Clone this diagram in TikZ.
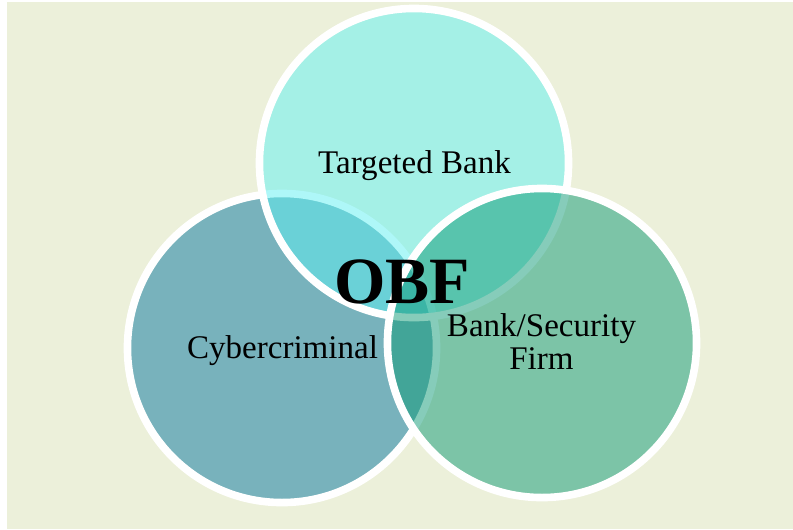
\documentclass[tikz,border=0pt]{standalone}
\usepackage{fontspec}
\setmainfont{Liberation Serif}
\usetikzlibrary{positioning}
\definecolor{bgcol}{RGB}{236,240,218}
\definecolor{leftcol}{RGB}{6,118,160}
\definecolor{topcol}{RGB}{94,240,242}
\definecolor{rightcol}{RGB}{14,154,118}

\begin{document}
\begin{tikzpicture}[
    % GLOBAL CFG
    x=0.025cm, y=-0.025cm,
    % Styles
    party/.style={% For the three circles
        circle,
        draw=white,
        line width=0.19cm,
        inner sep=0pt,
        minimum size=7.725cm,
        fill opacity=0.5,
    },
    mylabel/.style={% For circle texts
        font=\fontsize{23.5pt}{23.5pt}\selectfont,
        anchor=base,
        align=center,
        inner sep=0pt,
    },
    biglabel/.style={% For the middle text
        font=\fontsize{47pt}{47pt}\selectfont\bfseries,
        anchor=base,
        inner sep=0pt,
    },
    ]
    % Frame
    \useasboundingbox (0,0) rectangle (793,529);
    \fill[bgcol] (7,2) rectangle (793,529);

    % Draw circles
    \node[party, fill=leftcol] (crim) at (282,348) {};
    \node[party, fill=topcol] (bank) at (414,163) {};
    \node[party, fill=rightcol] (firm) at (542,343) {};

    % Draw labels
    \node[mylabel] (bankl) at (414.5,173) {Targeted Bank};
    \node[mylabel] (criml) at (282.5,358) {Cybercriminal};
    \node[mylabel, anchor=north] (firml) at (541.5,313) {Bank/Security\\Firm};
    \node[biglabel] (obf) at (402,303) {OBF};

\end{tikzpicture}
\end{document}
